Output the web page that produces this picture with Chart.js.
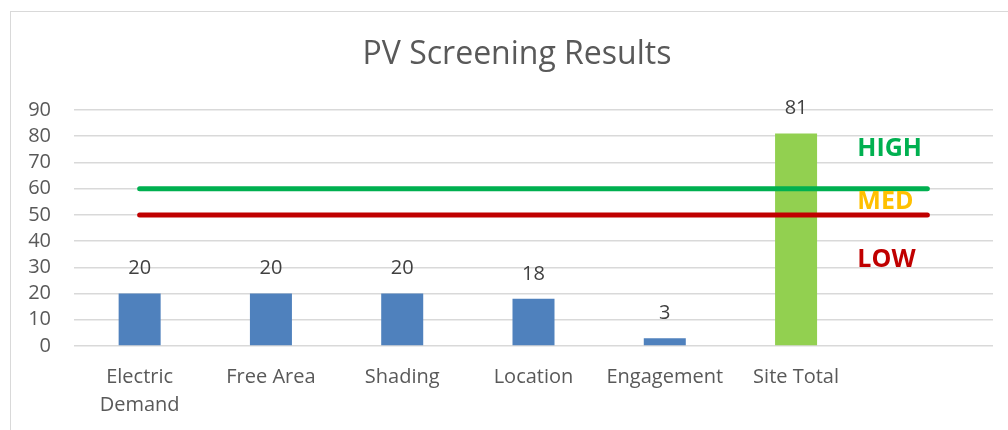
<!DOCTYPE html>
<html>
<head>
<meta charset="utf-8">
<script src="https://cdn.jsdelivr.net/npm/chart.js@4/dist/chart.umd.min.js"></script>
<style>
  html, body { margin: 0; padding: 0; background: #fff; overflow: hidden; }
  #frame {
    position: absolute; left: 10px; top: 11px;
    width: 1012px; height: 440px;
    border: 1px solid #d9d9d9;
  }
  #wrap { position: relative; width: 1012px; height: 418px; }
</style>
</head>
<body>
<div id="frame"><div id="wrap"><canvas id="pvChart"></canvas></div></div>
<script>
// categories (last slot is empty, the threshold lines run out to it)
const categories = [['Electric', 'Demand'], 'Free Area', 'Shading', 'Location', 'Engagement', 'Site Total', ''];
const scores = [20, 20, 20, 18, 3, 81, null];
const highLine = [60, 60, 60, 60, 60, 60, 60];
const lowLine = [50, 50, 50, 50, 50, 50, 50];
const zoneNames = ['HIGH', 'MED', 'LOW'];
const zoneValues = [75, 55, 33];
const yTicks = [0, 10, 20, 30, 40, 50, 60, 70, 80, 90];
const chartTitle = 'PV Screening Results';

const blue = '#4f81bd';
const green = '#92d050';
const zoneColors = ['#00b050', '#ffc000', '#c00000'];

// title centred on the whole chart frame
const frameTitle = {
    id: 'frameTitle',
    afterDraw(chart) {
        const ctx = chart.ctx;
        ctx.save();
        ctx.font = '32px "Open Sans"';
        ctx.fillStyle = '#595959';
        ctx.textAlign = 'center';
        ctx.textBaseline = 'middle';
        ctx.fillText(chartTitle, chart.width / 2, 43);
        ctx.restore();
    }
};

// value labels above the bars
const barLabels = {
    id: 'barLabels',
    afterDatasetsDraw(chart) {
        const ctx = chart.ctx;
        const meta = chart.getDatasetMeta(0);
        ctx.save();
        ctx.font = '20px "Open Sans"';
        ctx.fillStyle = '#404040';
        ctx.textAlign = 'center';
        ctx.textBaseline = 'middle';
        meta.data.forEach(function(bar, i) {
            if (scores[i] == null) return;
            ctx.fillText(String(scores[i]), bar.x, bar.y - 25);
        });
        ctx.restore();
    }
};

// HIGH / MED / LOW zone captions
const zoneLabels = {
    id: 'zoneLabels',
    afterDatasetsDraw(chart) {
        const ctx = chart.ctx;
        const x = chart.scales.x.getPixelForValue(6) - 70;
        ctx.save();
        ctx.font = 'bold 25px "Open Sans"';
        ctx.textAlign = 'left';
        ctx.textBaseline = 'middle';
        zoneNames.forEach(function(name, i) {
            ctx.fillStyle = zoneColors[i];
            ctx.fillText(name, x, chart.scales.y.getPixelForValue(zoneValues[i]));
        });
        ctx.restore();
    }
};

new Chart(document.getElementById('pvChart'), {
    data: {
        labels: categories,
        datasets: [{
            type: 'bar',
            data: scores,
            backgroundColor: [blue, blue, blue, blue, blue, green, blue],
            categoryPercentage: 1,
            barPercentage: 0.32,
            order: 2
        }, {
            type: 'line',
            data: highLine,
            borderColor: '#00b050',
            borderWidth: 5,
            borderCapStyle: 'round',
            pointRadius: 0,
            order: 1
        }, {
            type: 'line',
            data: lowLine,
            borderColor: '#c00000',
            borderWidth: 5,
            borderCapStyle: 'round',
            pointRadius: 0,
            order: 1
        }]
    },
    options: {
        responsive: true,
        maintainAspectRatio: false,
        animation: false,
        layout: { padding: { left: 0, right: 30, top: 98, bottom: 0 } },
        plugins: {
            legend: { display: false },
            tooltip: { enabled: false },
            title: { display: false }
        },
        scales: {
            x: {
                grid: { display: false, drawTicks: false },
                border: { display: false },
                ticks: {
                    color: '#595959',
                    font: { family: 'Open Sans', size: 20, lineHeight: 1.4 },
                    padding: 17,
                    maxRotation: 0,
                    autoSkip: false
                },
                afterFit: function(scale) { scale.height = 84; }
            },
            y: {
                min: 0,
                max: 90,
                afterBuildTicks: function(scale) {
                    scale.ticks = yTicks.map(function(v) { return { value: v }; });
                },
                grid: { color: '#d9d9d9', lineWidth: 1.5, drawTicks: false },
                border: { display: false },
                ticks: {
                    color: '#595959',
                    font: { family: 'Open Sans', size: 20 },
                    padding: 23,
                    autoSkip: false
                },
                afterFit: function(scale) { scale.width = 63; }
            }
        }
    },
    plugins: [barLabels, zoneLabels, frameTitle]
});
</script>
</body>
</html>
